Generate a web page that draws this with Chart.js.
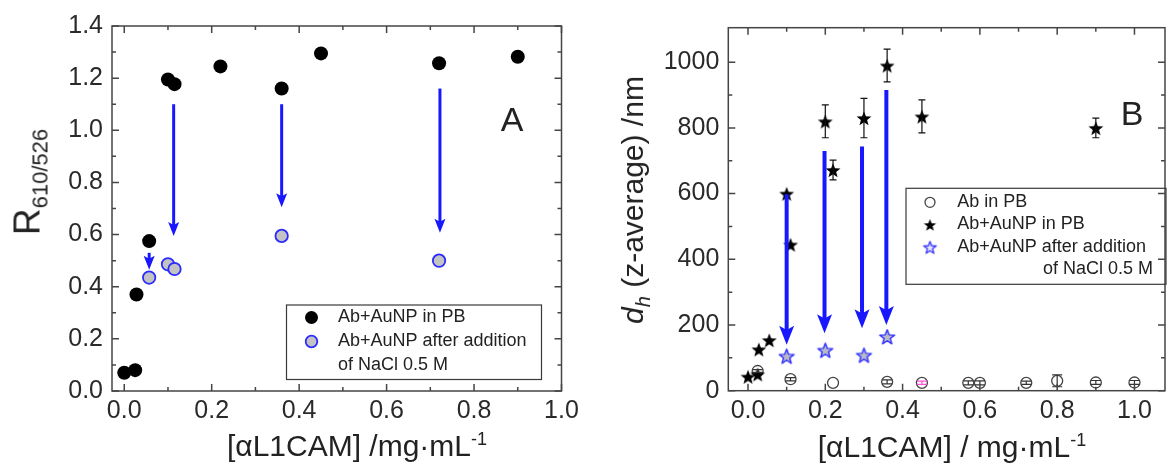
<!DOCTYPE html>
<html lang="en">
<head>
<meta charset="UTF-8">
<title>R610/526 and dh vs [αL1CAM]</title>
<script src="https://cdn.jsdelivr.net/npm/chart.js"></script>
<style>
  body {
    margin: 0;
    width: 1172px;
    height: 473px;
    overflow: hidden;
    position: relative;
    background: #fff;
    font-family: 'Liberation Sans', Arial, sans-serif;
    color: #222;
  }
  canvas { position: absolute; top: 0; }
  #chartA { left: 0; }
  #chartB { left: 590px; }
  .lbl {
    position: absolute;
    transform: translate(-50%, -50%);
    white-space: nowrap;
    line-height: 1;
  }
  .rot { transform: translate(-50%, -50%) rotate(-90deg); }
  sub, sup { line-height: 0; }
</style>
</head>
<body>
<canvas id="chartA" width="590" height="473"></canvas>
<canvas id="chartB" width="582" height="473"></canvas>

<div class="lbl rot" style="left:27px;top:182px;font-size:37px">R<sub style="font-size:22px">610/526</sub></div>
<div class="lbl" style="left:357px;top:446px;font-size:30px">[αL1CAM] /mg·mL<sup style="font-size:18px">-1</sup></div>
<div class="lbl" style="left:512px;top:119px;font-size:34px">A</div>

<div class="lbl rot" style="left:633px;top:200px;font-size:30px"><i>d</i><sub style="font-size:20px"><i>h</i></sub> (z-average) /nm</div>
<div class="lbl" style="left:952px;top:447px;font-size:30px">[αL1CAM] / mg·mL<sup style="font-size:18px">-1</sup></div>
<div class="lbl" style="left:1132px;top:113px;font-size:34px">B</div>

<script>
// ---- panel A : R610/526 ----
const aPbX   = [0.0, 0.025, 0.028, 0.057, 0.1, 0.115, 0.22, 0.36, 0.45, 0.72, 0.9];
const aPbY   = [0.07, 0.08, 0.37, 0.575, 1.195, 1.177, 1.245, 1.16, 1.295, 1.257, 1.282];
const aSaltX = [0.057, 0.1, 0.115, 0.36, 0.72];
const aSaltY = [0.435, 0.486, 0.468, 0.595, 0.5];
// arrows: x, start value, tip value
const aArrowX    = [0.057, 0.113, 0.36, 0.722];
const aArrowFrom = [0.53, 1.10, 1.10, 1.16];
const aArrowTo   = [0.465, 0.595, 0.705, 0.607];

const aXTicks = [0, 0.2, 0.4, 0.6, 0.8, 1.0];
const aXMinor = [0.1, 0.3, 0.5, 0.7, 0.9];
const aYTicks = [0, 0.2, 0.4, 0.6, 0.8, 1.0, 1.2, 1.4];
const aYMinor = [0.1, 0.3, 0.5, 0.7, 0.9, 1.1, 1.3];

// ---- panel B : dh (z-average) ----
const bCircX   = [0.025, 0.11, 0.22, 0.36, 0.45, 0.57, 0.6, 0.72, 0.8, 0.9, 1.0];
const bCircY   = [60, 35, 24, 27, 24, 24, 24, 24, 30, 25, 25];
const bCircErr = [4, 5, 0, 6, 5, 6, 6, 5, 18, 6, 6];
const bStarX   = [0.0, 0.025, 0.028, 0.055, 0.1, 0.11, 0.2, 0.22, 0.3, 0.36, 0.45, 0.9];
const bStarY   = [43, 50, 126, 154, 600, 445, 820, 672, 830, 990, 835, 800];
const bStarErr = [0, 0, 0, 0, 0, 0, 50, 30, 60, 50, 50, 30];
const bSaltX   = [0.1, 0.2, 0.3, 0.36];
const bSaltY   = [106, 124, 109, 165];
const bArrowX    = [0.1, 0.198, 0.295, 0.358];
const bArrowFrom = [598, 730, 743, 915];
const bArrowTo   = [140, 175, 190, 200];

const bXTicks = [0, 0.2, 0.4, 0.6, 0.8, 1.0];
const bXMinor = [0.1, 0.3, 0.5, 0.7, 0.9];
const bYTicks = [0, 200, 400, 600, 800, 1000];
const bYMinor = [100, 300, 500, 700, 900];

Chart.defaults.font.family = "'Liberation Sans', Arial, sans-serif";
Chart.defaults.color = '#222';
Chart.defaults.animation = false;

function pts(xs, ys) {
  return xs.map((x, i) => ({ x: x, y: ys[i] }));
}

// filled five point star as an image point style
function makeStar(r, fill, stroke, lw) {
  const c = document.createElement('canvas');
  const s = Math.ceil(2 * r + lw + 2);
  c.width = c.height = s;
  const g = c.getContext('2d');
  g.beginPath();
  for (let i = 0; i < 10; i++) {
    const rad = i % 2 ? r * 0.42 : r;
    const ang = -Math.PI / 2 + i * Math.PI / 5;
    g.lineTo(s / 2 + rad * Math.cos(ang), s / 2 + 1 + rad * Math.sin(ang));
  }
  g.closePath();
  g.fillStyle = fill;
  g.fill();
  if (lw) {
    g.strokeStyle = stroke;
    g.lineWidth = lw;
    g.lineJoin = 'round';
    g.stroke();
  }
  return c;
}

const starBlack = makeStar(7.8, '#000', '#000', 0);
const starBlackSmall = makeStar(6.5, '#000', '#000', 0);
const starBlue = makeStar(7.8, '#b9b9c9', '#3030ff', 1.4);
const starBlueSmall = makeStar(6.5, '#e8e8f4', '#3030ff', 1.3);

function axis(min, max, ticks, fmt, fit, horizontal) {
  return {
    type: 'linear',
    min: min,
    max: max,
    afterBuildTicks: s => { s.ticks = ticks.map(v => ({ value: v })); },
    afterFit: s => { if (horizontal) s.height = fit; else s.width = fit; },
    grid: { display: false, drawTicks: false },
    border: { display: false },
    ticks: {
      font: { size: 25 },
      color: '#2a2a2a',
      padding: horizontal ? 5 : 9,
      maxRotation: 0,
      autoSkip: false,
      callback: v => fmt(v)
    }
  };
}

// box frame with inward ticks on all four sides
const frameTicks = {
  id: 'frameTicks',
  afterDraw(chart, args, o) {
    const { ctx, chartArea: a, scales: { x, y } } = chart;
    ctx.save();
    ctx.strokeStyle = '#454545';
    ctx.lineWidth = 1.5;
    ctx.strokeRect(a.left, a.top, a.right - a.left, a.bottom - a.top);
    ctx.beginPath();
    const xt = (v, len) => {
      const p = x.getPixelForValue(v);
      ctx.moveTo(p, a.bottom); ctx.lineTo(p, a.bottom - len);
      ctx.moveTo(p, a.top); ctx.lineTo(p, a.top + len);
    };
    const yt = (v, len) => {
      const p = y.getPixelForValue(v);
      ctx.moveTo(a.left, p); ctx.lineTo(a.left + len, p);
      ctx.moveTo(a.right, p); ctx.lineTo(a.right - len, p);
    };
    o.xMajor.forEach(v => xt(v, 7));
    o.xMinor.forEach(v => xt(v, 4));
    o.yMajor.forEach(v => yt(v, 7));
    o.yMinor.forEach(v => yt(v, 4));
    ctx.stroke();
    ctx.restore();
  }
};

const errorBars = {
  id: 'errorBars',
  afterDatasetsDraw(chart) {
    const { ctx, scales: { x, y } } = chart;
    chart.data.datasets.forEach(ds => {
      if (!ds.errors) return;
      ctx.save();
      ctx.lineWidth = 1.2;
      ds.data.forEach((p, i) => {
        const e = ds.errors[i];
        if (!e) return;
        const px = x.getPixelForValue(p.x);
        const y1 = y.getPixelForValue(p.y - e);
        const y2 = y.getPixelForValue(p.y + e);
        const cap = ds.errorCap;
        ctx.strokeStyle = ds.errorColors ? ds.errorColors[i] : ds.errorColor;
        ctx.beginPath();
        ctx.moveTo(px, y1); ctx.lineTo(px, y2);
        ctx.moveTo(px - cap, y1); ctx.lineTo(px + cap, y1);
        ctx.moveTo(px - cap, y2); ctx.lineTo(px + cap, y2);
        ctx.stroke();
      });
      ctx.restore();
    });
  }
};

const arrows = {
  id: 'arrows',
  afterDatasetsDraw(chart, args, o) {
    const { ctx, scales: { x, y } } = chart;
    ctx.save();
    ctx.strokeStyle = o.color;
    ctx.fillStyle = o.color;
    ctx.lineWidth = o.width;
    o.xs.forEach((xv, i) => {
      const px = x.getPixelForValue(xv);
      const y0 = y.getPixelForValue(o.from[i]);
      const y1 = y.getPixelForValue(o.to[i]);
      ctx.beginPath();
      ctx.moveTo(px, y0);
      ctx.lineTo(px, y1 - o.head * 0.7);
      ctx.stroke();
      ctx.beginPath();
      ctx.moveTo(px, y1);
      ctx.lineTo(px - o.half, y1 - o.head);
      ctx.lineTo(px, y1 - o.head * 0.78);
      ctx.lineTo(px + o.half, y1 - o.head);
      ctx.closePath();
      ctx.fill();
    });
    ctx.restore();
  }
};

function drawMarker(ctx, ds, x, y) {
  const st = ds.legendPointStyle || ds.pointStyle;
  if (st instanceof HTMLCanvasElement) {
    ctx.drawImage(st, x - st.width / 2, y - st.height / 2);
    return;
  }
  ctx.beginPath();
  ctx.arc(x, y, ds.legendRadius || ds.pointRadius, 0, Math.PI * 2);
  ctx.fillStyle = ds.backgroundColor;
  ctx.fill();
  if (ds.borderWidth) {
    ctx.lineWidth = ds.borderWidth;
    ctx.strokeStyle = ds.borderColor;
    ctx.stroke();
  }
}

const legendBox = {
  id: 'legendBox',
  afterDraw(chart, args, o) {
    const ctx = chart.ctx;
    ctx.save();
    ctx.strokeStyle = '#3a3a3a';
    ctx.lineWidth = 1.2;
    ctx.strokeRect(o.box[0], o.box[1], o.box[2], o.box[3]);
    ctx.font = "18px 'Liberation Sans', Arial, sans-serif";
    ctx.textBaseline = 'middle';
    o.rows.forEach(r => {
      const ds = chart.data.datasets[r.ds];
      drawMarker(ctx, ds, o.markerX, r.y);
      ctx.fillStyle = '#222';
      ds.label.forEach((line, k) => {
        if (k > 0 && o.wrapAlign === 'right') {
          ctx.textAlign = 'right';
          ctx.fillText(line, o.rightX, r.y + k * o.lineGap);
        } else {
          ctx.textAlign = 'left';
          ctx.fillText(line, o.textX, r.y + k * o.lineGap);
        }
      });
    });
    ctx.restore();
  }
};

const common = {
  responsive: false,
  events: [],
  plugins: { legend: { display: false }, tooltip: { enabled: false } }
};

new Chart(document.getElementById('chartA'), {
  type: 'scatter',
  data: {
    datasets: [
      {
        label: ['Ab+AuNP in PB'],
        data: pts(aPbX, aPbY),
        pointRadius: 7,
        backgroundColor: '#000',
        borderColor: '#000',
        borderWidth: 0,
        legendRadius: 6.5,
        order: 0
      },
      {
        label: ['Ab+AuNP after addition', 'of NaCl 0.5 M'],
        data: pts(aSaltX, aSaltY),
        pointRadius: 6.2,
        backgroundColor: '#c3c3c3',
        borderColor: '#2b2bff',
        borderWidth: 1.8,
        legendRadius: 5.8,
        order: 1
      }
    ]
  },
  options: {
    ...common,
    layout: { padding: { top: 26, right: 28.5, left: 0, bottom: 0 } },
    scales: {
      x: axis(-0.028, 1.0, aXTicks, v => v.toFixed(1), 82, true),
      y: axis(0, 1.4, aYTicks, v => v.toFixed(1), 112, false)
    },
    plugins: {
      ...common.plugins,
      frameTicks: { xMajor: aXTicks, xMinor: aXMinor, yMajor: aYTicks, yMinor: aYMinor },
      arrows: { xs: aArrowX, from: aArrowFrom, to: aArrowTo, color: '#1818ff', width: 3, head: 14, half: 5.5 },
      legendBox: {
        box: [286.5, 305, 255, 74.5],
        markerX: 311.5, textX: 338, rightX: 530, lineGap: 24, wrapAlign: 'left',
        rows: [{ ds: 0, y: 317.5 }, { ds: 1, y: 341.5 }]
      }
    }
  },
  plugins: [frameTicks, errorBars, arrows, legendBox]
});

new Chart(document.getElementById('chartB'), {
  type: 'scatter',
  data: {
    datasets: [
      {
        label: ['Ab in PB'],
        data: pts(bCircX, bCircY),
        pointStyle: 'circle',
        pointRadius: 5.5,
        backgroundColor: 'rgba(255,255,255,0)',
        borderColor: '#444',
        borderWidth: 1.3,
        legendRadius: 5,
        errors: bCircErr,
        errorCap: 5,
        errorColor: '#333',
        errorColors: ['#333', '#333', '#333', '#333', '#ff4fd8', '#333', '#333', '#333', '#333', '#333', '#333'],
        order: 2
      },
      {
        label: ['Ab+AuNP in PB'],
        data: pts(bStarX, bStarY),
        pointStyle: starBlack,
        legendPointStyle: starBlackSmall,
        pointRadius: 6,
        errors: bStarErr,
        errorCap: 3.5,
        errorColor: '#111',
        order: 1
      },
      {
        label: ['Ab+AuNP after addition', 'of NaCl 0.5 M'],
        data: pts(bSaltX, bSaltY),
        pointStyle: starBlue,
        legendPointStyle: starBlueSmall,
        pointRadius: 6,
        order: 0
      }
    ]
  },
  options: {
    ...common,
    layout: { padding: { top: 27.7, right: 0.5, left: 0, bottom: 0 } },
    scales: {
      x: axis(-0.051, 1.079, bXTicks, v => v.toFixed(1), 82.3, true),
      y: axis(0, 1105, bYTicks, v => String(v), 138.3, false)
    },
    plugins: {
      ...common.plugins,
      frameTicks: { xMajor: bXTicks, xMinor: bXMinor, yMajor: bYTicks, yMinor: bYMinor },
      arrows: { xs: bArrowX, from: bArrowFrom, to: bArrowTo, color: '#1818ff', width: 4, head: 19, half: 7.5 },
      legendBox: {
        box: [316, 188.3, 260, 96],
        markerX: 340, textX: 367.3, rightX: 563, lineGap: 22.5, wrapAlign: 'right',
        rows: [{ ds: 0, y: 202.3 }, { ds: 1, y: 224.5 }, { ds: 2, y: 247 }]
      }
    }
  },
  plugins: [frameTicks, errorBars, arrows, legendBox]
});
</script>
</body>
</html>
